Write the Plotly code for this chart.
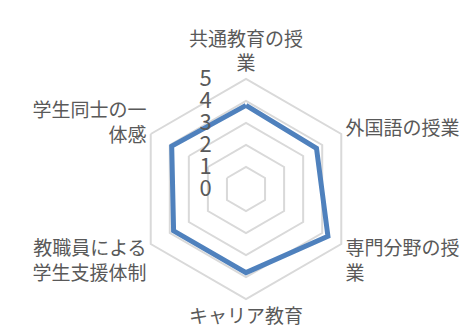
import plotly.graph_objects as go

categories = [
    "共通教育の授<br>業",
    "外国語の授業",
    "専門分野の授<br>業",
    "キャリア教育",
    "教職員による<br>学生支援体制",
    "学生同士の一<br>体感",
]
scores = [3.8, 3.7, 4.3, 3.8, 3.8, 3.9]
radial_ticks = [0, 1, 2, 3, 4, 5]

FONT = "Noto Sans CJK JP"
GREY_TEXT = "#595959"
GRID = "#D9D9D9"

fig = go.Figure(
    go.Scatterpolar(
        r=scores + scores[:1],
        theta=categories + categories[:1],
        mode="lines",
        line=dict(color="#4F81BD", width=5),
        showlegend=False,
    )
)

fig.update_layout(
    width=471,
    height=327,
    margin=dict(l=0, r=0, t=0, b=0),
    paper_bgcolor="white",
    font=dict(family=FONT, size=20, color=GREY_TEXT),
    polar=dict(
        domain=dict(x=[128 / 471, 348 / 471], y=[1 - 291 / 327, 1 - 71 / 327]),
        bgcolor="white",
        gridshape="linear",
        radialaxis=dict(
            range=[0, 5],
            tickvals=radial_ticks,
            angle=90,
            tickangle=90,
            side="counterclockwise",
            showline=False,
            gridcolor=GRID,
            gridwidth=2,
            ticks="outside",
            ticklen=26,
            tickcolor="rgba(0,0,0,0)",
            tickfont=dict(family=FONT, size=22, color=GREY_TEXT),
        ),
        angularaxis=dict(
            rotation=90,
            direction="clockwise",
            showgrid=False,
            showline=True,
            linecolor=GRID,
            linewidth=2,
            ticks="",
            tickfont=dict(family=FONT, size=19, color=GREY_TEXT),
        ),
    ),
)

fig.write_html("out.html")
